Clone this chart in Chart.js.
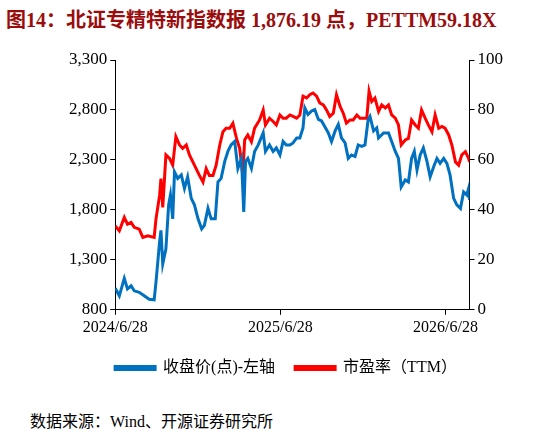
<!DOCTYPE html><html><head><meta charset="utf-8">
<script src="https://cdn.jsdelivr.net/npm/chart.js@4"></script>
<style>body{margin:0;width:546px;height:437px;background:#fff;position:relative;overflow:hidden}
#t{position:absolute;left:6px;top:4px;font:bold 20px "Liberation Serif","Noto Sans CJK SC";color:#9b0d0d;white-space:nowrap}
#s{position:absolute;left:30px;top:408px;font:16px "Liberation Serif","Noto Sans CJK SC";color:#000}
#c{position:absolute;left:0;top:40px;width:546px;height:346px}</style></head><body>
<div id="t">图14：北证专精特新指数报 1,876.19 点，PETTM59.18X</div>
<div id="c"><canvas id="cv"></canvas></div>
<div id="s">数据来源：Wind、开源证券研究所</div>
<script>
const tickDays=[0,365,730];
const tickLabels=['2024/6/28','2025/6/28','2026/6/28'];
const idxDays=[0,9,20,27,35,42,53,64,75,86,90,98,101,105,112,118,122,127,131,138,146,153,160,168,175,183,191,197,205,212,221,227,234,242,249,256,264,271,279,284,288,293,301,308,316,327,332,341,349,356,364,371,378,386,393,401,408,415,419,426,434,441,449,456,463,471,478,486,493,500,508,515,522,530,537,545,552,559,563,571,578,582,593,604,611,619,626,632,641,648,655,661,667,674,681,689,696,704,711,718,726,733,740,748,755,763,770,777,781,783];
const idxVals=[1015,940,1115,1010,1040,990,975,940,905,900,1075,1480,1595,1260,1410,1850,1950,1710,2180,2115,2150,2015,2130,1915,1850,1710,1610,1645,1815,1710,1710,2080,2115,2285,2385,2450,2485,2215,2315,1780,2285,2315,2215,2385,2450,2570,2385,2450,2385,2420,2350,2485,2450,2450,2470,2520,2520,2620,2820,2755,2790,2805,2705,2690,2635,2570,2485,2590,2655,2520,2470,2315,2350,2335,2450,2435,2450,2705,2735,2590,2620,2520,2570,2570,2485,2385,2315,2030,2100,2080,2315,2385,2200,2350,2420,2285,2130,2235,2315,2265,2315,2265,2150,1915,1850,1815,1980,1950,2015,1900];
const peDays=[0,9,20,27,35,42,53,61,72,86,90,98,101,105,112,120,127,134,142,149,157,164,175,186,194,201,208,216,223,231,238,245,253,260,268,275,282,286,293,301,308,319,327,332,341,349,356,364,371,378,386,393,401,408,415,423,430,437,445,452,460,467,474,482,489,497,504,511,519,526,534,541,548,556,561,567,574,582,589,597,604,611,619,626,632,641,648,655,663,670,677,685,692,700,707,715,722,729,737,744,752,759,766,774,781,783];
const peVals=[33.6,31.6,37,34.3,35,33,32.3,29,29.6,29,36.3,45.8,52.5,41,62,60.6,57.9,69.3,66,64.6,66,62,57.9,53.8,51.1,56.5,53.8,53.8,57.9,66,71.3,72.7,72.7,74.7,68.6,64.6,53.8,68,70,67.3,72.7,76,80,74,76.7,75.4,74,78,76.7,76.7,78,77.4,76.7,78,85.5,84.8,86.1,86.8,85.5,82.8,82,80,77.4,78.7,86.1,81.4,78.7,74.7,76,76,78,76.7,76.7,76.7,87.5,83.4,84.8,79.4,82,80.8,82,78,76.7,74,66,68,68.6,76,74,72.7,80,76.7,74,71.3,78,72.7,73.4,72.7,70,66,59.2,57.9,62,63.3,60.6,59.2];
const F='"Liberation Serif","Noto Sans CJK SC"';
new Chart(document.getElementById('cv'),{type:'line',
data:{datasets:[
{label:'收盘价(点)-左轴',data:idxDays.map((d,i)=>({x:d,y:idxVals[i]})),borderColor:'#0070c0',backgroundColor:'#0070c0',borderWidth:3,pointRadius:0,yAxisID:'y',tension:0},
{label:'市盈率（TTM）',data:peDays.map((d,i)=>({x:d,y:peVals[i]})),borderColor:'#ff0000',backgroundColor:'#ff0000',borderWidth:3,pointRadius:0,yAxisID:'y1',tension:0}]},
options:{animation:false,responsive:true,maintainAspectRatio:false,
layout:{padding:{left:66,right:40,top:20,bottom:0}},
plugins:{legend:{position:'bottom',labels:{font:{family:F,size:16},color:'#000',boxWidth:40,boxHeight:3,padding:20}},tooltip:{enabled:false}},
scales:{
x:{type:'linear',min:0,max:783,afterBuildTicks:a=>{a.ticks=tickDays.map(v=>({value:v}));},
ticks:{callback:v=>tickLabels[tickDays.indexOf(v)],font:{family:F,size:16},color:'#000',maxRotation:0,autoSkip:false},
grid:{drawOnChartArea:false,color:'#000',tickLength:5},border:{color:'#000'}},
y:{position:'left',min:800,max:3300,ticks:{stepSize:500,font:{family:F,size:17},color:'#000',callback:v=>v.toLocaleString('en-US')},grid:{drawOnChartArea:false,color:'#000',tickLength:5},border:{color:'#000'}},
y1:{position:'right',min:0,max:100,ticks:{stepSize:20,font:{family:F,size:17},color:'#000'},grid:{drawOnChartArea:false,color:'#000',tickLength:5},border:{color:'#000'}}
}}});
</script></body></html>
